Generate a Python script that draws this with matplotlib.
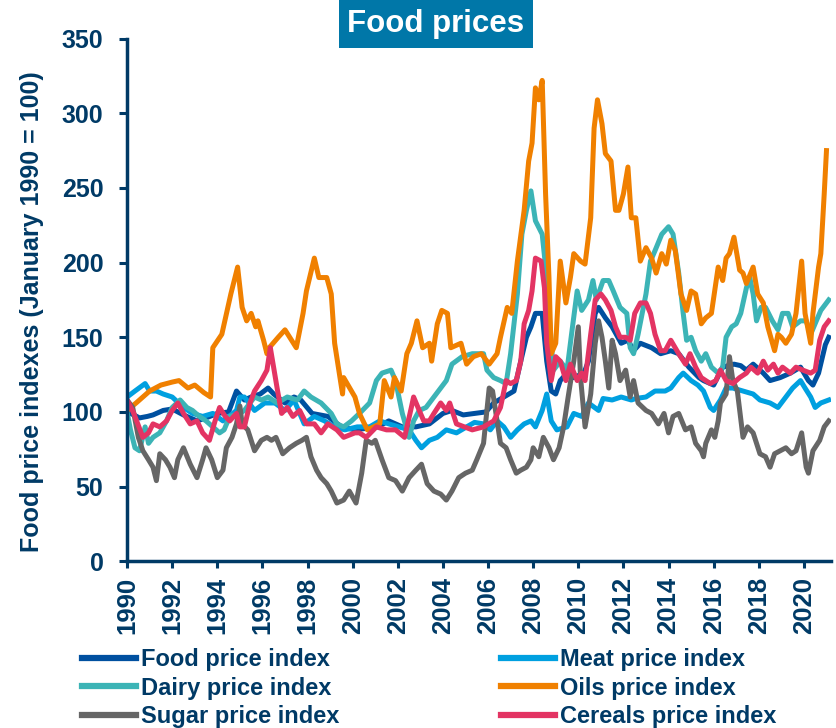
import matplotlib
matplotlib.use('Agg')
import matplotlib.pyplot as plt

plt.rcParams['font.family'] = ['Liberation Sans', 'DejaVu Sans']
plt.rcParams['font.weight'] = 'bold'

navy = '#003a66'

# index values (Jan 1990 = 100)
food_t = [1990.0, 1990.3, 1990.55, 1990.9, 1991.15, 1991.6, 1992.0, 1992.5, 1993.1, 1993.5, 1994.0, 1994.5,
          1994.85, 1995.2, 1995.5, 1995.9, 1996.25, 1996.5, 1997.0, 1997.4, 1997.7, 1998.2, 1998.9, 1999.5,
          2000.1, 2000.6, 2001.1, 2001.6, 2002.2, 2002.8, 2003.4, 2004.0, 2004.4, 2004.9, 2005.4, 2005.9,
          2006.25, 2006.7, 2007.15, 2007.45, 2007.7, 2007.9, 2008.1, 2008.4, 2008.6, 2008.8, 2009.0, 2009.2,
          2009.5, 2009.8, 2010.25, 2010.45, 2010.75, 2010.9, 2011.2, 2011.5, 2011.9, 2012.2, 2012.45, 2012.75,
          2013.25, 2013.65, 2014.1, 2014.45, 2014.9, 2015.35, 2015.55, 2016.0, 2016.4, 2016.9, 2017.2, 2017.45,
          2017.75, 2018.2, 2018.5, 2018.95, 2019.4, 2019.85, 2020.2, 2020.4, 2020.65, 2020.95, 2021.1]
food = [100, 98, 96, 97, 98, 101, 102, 98, 94, 96, 99, 100,
        114, 108, 110, 112, 116, 112, 106, 110, 108, 99, 97, 90,
        88, 89, 90, 94, 90, 90, 92, 99, 101, 98, 99, 100,
        106, 110, 114, 134, 150, 157, 166, 166, 134, 114, 112, 121,
        126, 123, 126, 134, 166, 170, 163, 157, 146, 148, 141, 146,
        143, 139, 141, 139, 130, 123, 121, 118, 130, 132, 131, 128,
        132, 126, 121, 123, 126, 130, 121, 118, 126, 145, 150]

meat_t = [1990.0, 1990.35, 1990.8, 1991.0, 1991.3, 1991.6, 1992.0, 1992.5, 1992.9, 1993.35, 1993.8, 1994.25,
          1994.6, 1994.85, 1995.0, 1995.2, 1995.65, 1996.1, 1996.55, 1997.0, 1997.4, 1997.85, 1998.3, 1998.75,
          1999.2, 1999.65, 2000.2, 2000.75, 2001.2, 2001.6, 2002.05, 2002.5, 2002.8, 2003.05, 2003.4, 2003.75,
          2004.15, 2004.6, 2005.05, 2005.4, 2005.8, 2006.1, 2006.4, 2006.7, 2007.0, 2007.3, 2007.6, 2007.9,
          2008.1, 2008.4, 2008.6, 2008.8, 2009.05, 2009.5, 2009.8, 2010.15, 2010.45, 2010.9, 2011.1, 2011.5,
          2011.9, 2012.35, 2012.55, 2013.0, 2013.4, 2013.85, 2014.1, 2014.45, 2014.65, 2015.0, 2015.3, 2015.55,
          2015.85, 2016.0, 2016.3, 2016.55, 2016.85, 2017.3, 2017.75, 2018.05, 2018.5, 2018.85, 2019.2, 2019.5,
          2019.85, 2020.05, 2020.3, 2020.5, 2020.75, 2021.1]
meat = [110, 114, 119, 114, 114, 112, 110, 103, 99, 97, 99, 94,
        98, 101, 110, 110, 101, 106, 106, 101, 108, 92, 97, 94,
        90, 88, 90, 90, 94, 92, 90, 88, 81, 76, 81, 83,
        88, 86, 90, 93, 92, 88, 94, 90, 83, 88, 92, 94,
        90, 101, 112, 94, 88, 90, 99, 97, 106, 101, 109, 108,
        110, 108, 109, 110, 114, 114, 116, 123, 126, 121, 118, 114,
        103, 101, 108, 116, 116, 114, 112, 108, 106, 103, 110, 116,
        121, 116, 110, 103, 106, 108]

dairy_t = [1990.0, 1990.15, 1990.35, 1990.55, 1990.8, 1990.95, 1991.15, 1991.45, 1991.75, 1992.0, 1992.35, 1992.65,
           1992.9, 1993.2, 1993.5, 1993.8, 1994.1, 1994.3, 1994.55, 1995.0, 1995.2, 1995.65, 1995.95, 1996.25,
           1996.65, 1997.1, 1997.55, 1997.85, 1998.15, 1998.6, 1999.05, 1999.3, 1999.6, 1999.95, 2000.3, 2000.75,
           2001.05, 2001.3, 2001.7, 2001.9, 2002.2, 2002.5, 2002.7, 2002.95, 2003.25, 2003.7, 2004.15, 2004.4,
           2004.85, 2005.3, 2005.8, 2005.95, 2006.25, 2006.55, 2006.8, 2007.0, 2007.3, 2007.5, 2007.7, 2007.9,
           2008.1, 2008.4, 2008.6, 2008.8, 2008.9, 2009.2, 2009.5, 2009.7, 2009.95, 2010.15, 2010.45, 2010.65,
           2010.8, 2011.1, 2011.35, 2011.55, 2011.85, 2012.15, 2012.3, 2012.45, 2012.65, 2013.0, 2013.2, 2013.4,
           2013.7, 2014.0, 2014.2, 2014.45, 2014.65, 2014.8, 2015.0, 2015.2, 2015.45, 2015.65, 2015.9, 2016.2,
           2016.4, 2016.55, 2016.8, 2017.0, 2017.2, 2017.45, 2017.6, 2017.75, 2017.9, 2018.1, 2018.3, 2018.6,
           2018.85, 2019.05, 2019.3, 2019.5, 2019.85, 2020.1, 2020.3, 2020.55, 2020.75, 2021.1]
dairy = [100, 88, 76, 74, 90, 79, 83, 86, 94, 103, 108, 103,
         101, 97, 94, 90, 86, 88, 97, 99, 101, 110, 108, 110,
         106, 110, 108, 114, 110, 106, 99, 92, 90, 94, 99, 106,
         121, 126, 128, 121, 99, 83, 94, 101, 103, 112, 121, 132,
         137, 139, 139, 128, 123, 121, 119, 139, 179, 219, 235, 248,
         228, 219, 190, 146, 128, 134, 128, 152, 181, 168, 175, 188,
         175, 188, 188, 181, 170, 166, 143, 139, 152, 179, 201, 208,
         219, 224, 219, 193, 166, 148, 150, 141, 134, 139, 130, 126,
         130, 150, 157, 159, 166, 183, 190, 179, 161, 170, 170, 161,
         155, 166, 166, 157, 161, 161, 152, 161, 168, 175]

oils_t = [1990.0, 1990.4, 1991.0, 1991.5, 1992.0, 1992.3, 1992.7, 1993.0, 1993.4, 1993.7, 1993.8, 1994.2,
          1994.6, 1994.9, 1995.1, 1995.3, 1995.5, 1995.7, 1995.8, 1996.05, 1996.2, 1996.3, 1996.7, 1997.0,
          1997.5, 1997.8, 1997.95, 1998.3, 1998.5, 1998.85, 1999.05, 1999.2, 1999.55, 1999.6, 2000.1, 2000.3,
          2000.65, 2001.2, 2001.4, 2001.7, 2001.85, 2002.15, 2002.4, 2002.6, 2002.85, 2003.1, 2003.4, 2003.5,
          2003.75, 2003.95, 2004.2, 2004.35, 2004.8, 2005.05, 2005.35, 2005.7, 2006.05, 2006.4, 2006.55, 2006.85,
          2007.05, 2007.3, 2007.6, 2007.8, 2007.95, 2008.1, 2008.25, 2008.4, 2008.55, 2008.7, 2008.8, 2009.0,
          2009.2, 2009.45, 2009.65, 2009.8, 2010.1, 2010.3, 2010.55, 2010.7, 2010.85, 2011.05, 2011.2, 2011.45,
          2011.65, 2011.8, 2012.0, 2012.2, 2012.35, 2012.55, 2012.75, 2013.0, 2013.25, 2013.45, 2013.7, 2013.9,
          2014.1, 2014.3, 2014.55, 2014.8, 2015.0, 2015.2, 2015.45, 2015.65, 2015.9, 2016.2, 2016.4, 2016.55,
          2016.7, 2016.9, 2017.15, 2017.3, 2017.45, 2017.75, 2017.95, 2018.2, 2018.4, 2018.7, 2018.85, 2019.0,
          2019.2, 2019.45, 2019.65, 2019.9, 2020.05, 2020.3, 2020.4, 2020.65, 2020.75, 2020.9, 2021.0]
oils = [101, 106, 114, 118, 120, 121, 116, 118, 113, 110, 143, 152,
        179, 197, 170, 161, 166, 157, 161, 148, 139, 143, 150, 155,
        143, 166, 181, 203, 190, 190, 179, 146, 112, 123, 110, 99,
        88, 92, 121, 110, 123, 114, 139, 146, 161, 143, 146, 134,
        159, 168, 166, 143, 146, 132, 137, 139, 132, 139, 150, 170,
        166, 201, 235, 268, 280, 317, 309, 322, 246, 190, 139, 146,
        201, 173, 190, 206, 201, 199, 230, 290, 309, 293, 273, 268,
        235, 235, 246, 264, 230, 230, 201, 210, 203, 193, 206, 199,
        215, 208, 179, 168, 181, 179, 159, 163, 166, 197, 188, 203,
        206, 217, 195, 193, 186, 197, 179, 173, 157, 141, 152, 150,
        146, 152, 166, 201, 166, 146, 166, 197, 206, 246, 275]

sugar_t = [1990.0, 1990.25, 1990.5, 1990.7, 1990.95, 1991.15, 1991.3, 1991.45, 1991.7, 1991.9, 1992.1, 1992.25,
           1992.5, 1992.8, 1993.1, 1993.35, 1993.5, 1993.75, 1994.0, 1994.25, 1994.4, 1994.65, 1994.85, 1995.0,
           1995.1, 1995.35, 1995.65, 1995.95, 1996.2, 1996.4, 1996.6, 1996.9, 1997.2, 1997.5, 1997.75, 1997.95,
           1998.15, 1998.4, 1998.6, 1998.85, 1999.05, 1999.3, 1999.6, 1999.85, 2000.15, 2000.4, 2000.6, 2000.85,
           2001.0, 2001.3, 2001.6, 2001.9, 2002.2, 2002.5, 2002.8, 2003.05, 2003.3, 2003.6, 2003.9, 2004.15,
           2004.4, 2004.7, 2005.0, 2005.3, 2005.5, 2005.8, 2006.05, 2006.2, 2006.35, 2006.55, 2006.8, 2007.0,
           2007.25, 2007.45, 2007.7, 2007.9, 2008.0, 2008.25, 2008.45, 2008.7, 2008.9, 2009.15, 2009.35, 2009.55,
           2009.8, 2010.0, 2010.1, 2010.3, 2010.55, 2010.75, 2010.9, 2011.05, 2011.2, 2011.35, 2011.5, 2011.65,
           2011.85, 2012.1, 2012.3, 2012.45, 2012.65, 2013.0, 2013.25, 2013.55, 2013.8, 2014.0, 2014.2, 2014.45,
           2014.75, 2015.0, 2015.2, 2015.45, 2015.55, 2015.65, 2015.9, 2016.05, 2016.2, 2016.3, 2016.55, 2016.7,
           2016.85, 2017.05, 2017.3, 2017.5, 2017.75, 2018.05, 2018.3, 2018.5, 2018.7, 2018.95, 2019.2, 2019.45,
           2019.65, 2019.9, 2020.1, 2020.2, 2020.4, 2020.7, 2020.9, 2021.1]
sugar = [108, 103, 83, 74, 68, 63, 54, 72, 68, 63, 56, 68,
         76, 65, 56, 68, 76, 68, 56, 61, 76, 83, 92, 104,
         92, 88, 74, 81, 83, 81, 83, 72, 76, 79, 81, 83,
         70, 61, 56, 52, 47, 39, 41, 47, 39, 59, 81, 79,
         81, 68, 56, 54, 47, 56, 61, 65, 52, 47, 45, 41,
         47, 56, 59, 61, 68, 79, 116, 114, 99, 79, 76, 68,
         59, 61, 63, 68, 76, 70, 83, 76, 68, 76, 90, 110,
         134, 157, 123, 90, 112, 146, 161, 150, 134, 116, 148, 139,
         121, 128, 110, 121, 106, 101, 99, 92, 99, 86, 97, 99,
         88, 90, 79, 74, 70, 79, 88, 83, 94, 106, 112, 137,
         121, 114, 83, 90, 86, 72, 70, 63, 72, 74, 76, 72,
         74, 86, 63, 59, 74, 81, 90, 94]

cereals_t = [1990.0, 1990.3, 1990.7, 1990.95, 1991.15, 1991.45, 1991.75, 1992.0, 1992.25, 1992.5, 1992.8, 1993.1,
             1993.35, 1993.65, 1993.9, 1994.1, 1994.35, 1994.55, 1994.85, 1995.0, 1995.2, 1995.45, 1995.65, 1995.95,
             1996.2, 1996.35, 1996.45, 1996.65, 1996.85, 1997.1, 1997.35, 1997.65, 1997.95, 1998.3, 1998.6, 1998.9,
             1999.3, 1999.6, 2000.1, 2000.3, 2000.6, 2001.05, 2001.5, 2001.9, 2002.3, 2002.6, 2002.7, 2002.95,
             2003.15, 2003.4, 2003.6, 2003.9, 2004.15, 2004.3, 2004.6, 2004.95, 2005.3, 2005.8, 2006.25, 2006.55,
             2006.8, 2007.0, 2007.25, 2007.45, 2007.6, 2007.8, 2007.95, 2008.1, 2008.35, 2008.5, 2008.6, 2008.8,
             2009.0, 2009.2, 2009.45, 2009.65, 2009.95, 2010.15, 2010.3, 2010.55, 2010.75, 2011.0, 2011.2, 2011.45,
             2011.65, 2011.85, 2012.1, 2012.3, 2012.5, 2012.75, 2013.0, 2013.2, 2013.4, 2013.65, 2013.85, 2014.1,
             2014.45, 2014.75, 2014.95, 2015.2, 2015.45, 2015.85, 2016.1, 2016.3, 2016.55, 2016.85, 2017.15, 2017.45,
             2017.65, 2017.95, 2018.2, 2018.4, 2018.65, 2018.85, 2019.05, 2019.4, 2019.65, 2019.95, 2020.3, 2020.5,
             2020.7, 2020.9, 2021.1]
cereals = [108, 99, 83, 86, 92, 90, 94, 101, 106, 99, 92, 94,
           86, 81, 94, 103, 97, 94, 99, 90, 90, 106, 114, 121,
           128, 143, 134, 116, 99, 103, 97, 101, 92, 92, 86, 92,
           88, 83, 86, 86, 83, 90, 88, 88, 83, 103, 110, 101,
           94, 94, 99, 106, 101, 106, 92, 90, 88, 90, 94, 103,
           121, 119, 121, 134, 159, 168, 181, 203, 201, 183, 146, 121,
           137, 134, 121, 132, 121, 126, 121, 152, 175, 179, 175, 168,
           157, 150, 150, 148, 166, 173, 173, 166, 152, 141, 141, 148,
           139, 132, 139, 130, 123, 119, 121, 128, 121, 119, 123, 126,
           130, 126, 134, 128, 132, 126, 130, 126, 130, 128, 126, 128,
           148, 157, 161]

series = [
    ('Food price index', food_t, food, '#0050a0'),
    ('Meat price index', meat_t, meat, '#00a0e0'),
    ('Dairy price index', dairy_t, dairy, '#3cb4b6'),
    ('Oils price index', oils_t, oils, '#f08000'),
    ('Sugar price index', sugar_t, sugar, '#666666'),
    ('Cereals price index', cereals_t, cereals, '#e33463'),
]

fig = plt.figure(figsize=(8.36, 7.28), dpi=100)
ax = fig.add_axes([0.152, 0.229, 0.842, 0.718])

lines = {}
for name, t, v, c in series:
    ln, = ax.plot(t, v, color=c, lw=3.6, solid_joinstyle='round', label=name)
    lines[name] = ln

ax.set_xlim(1990, 2021.2)
ax.set_ylim(0, 350)
ax.set_xticks(range(1990, 2021, 2))
ax.set_yticks(range(0, 351, 50))
ax.tick_params(axis='x', rotation=90, length=5, width=2.2, color=navy, labelcolor=navy,
               labelsize=18.5, pad=6)
ax.tick_params(axis='y', length=6, width=2.2, color=navy, labelcolor=navy, labelsize=18, pad=11)
for s in ['top', 'right']:
    ax.spines[s].set_visible(False)
for s in ['left', 'bottom']:
    ax.spines[s].set_color(navy)
    ax.spines[s].set_linewidth(2.5)

fig.text(32 / 836, 1 - 312 / 728, 'Food price indexes (January 1990 = 100)', rotation=90,
         ha='center', va='center', fontsize=18, color=navy, fontweight='bold')

fig.text(436 / 836, 1 - 24 / 728, 'Food prices', ha='center', va='center', fontsize=22.5,
         color='white', fontweight='bold',
         bbox=dict(boxstyle='square,pad=0.28', facecolor='#0077a8', edgecolor='none'))

# legend filled column-wise, so order gives rows Food/Meat, Dairy/Oils, Sugar/Cereals
order = ['Food price index', 'Dairy price index', 'Sugar price index',
         'Meat price index', 'Oils price index', 'Cereals price index']
leg = fig.legend([lines[n] for n in order], order, ncol=2, loc='upper left',
                 bbox_to_anchor=(0.098, 0.110), frameon=False, fontsize=17,
                 handlelength=2.3, handletextpad=0.2, columnspacing=6.85,
                 labelspacing=0.24, borderaxespad=0, borderpad=0)
for txt in leg.get_texts():
    txt.set_color(navy)
for h in leg.legend_handles:
    h.set_linewidth(4.5)

plt.savefig('out.png', dpi=100)
